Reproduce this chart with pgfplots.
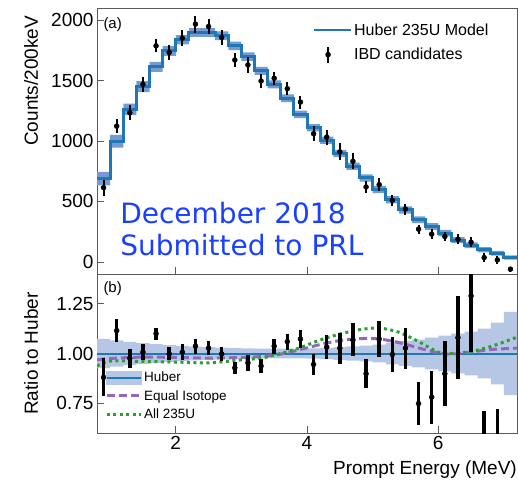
\documentclass[border=0pt]{standalone}
\usepackage{fontspec}
\setmainfont{Liberation Sans}
\newfontfamily\notefont{DejaVu Sans}
\usepackage{pgfplots}
\usepackage{pgfplotstable}
\usepgfplotslibrary{fillbetween}
\pgfplotsset{compat=1.18}

\definecolor{huber}{RGB}{31,119,180}
\definecolor{upband}{RGB}{118,155,210}
\definecolor{lowband}{RGB}{182,199,230}
\definecolor{isocol}{RGB}{148,103,189}
\definecolor{u235col}{RGB}{44,160,44}
\definecolor{notecol}{RGB}{26,64,255}
\definecolor{framecol}{RGB}{90,90,90}

% model per 200 keV bin (lower edge), band in counts, fractional band for ratio
\pgfplotstableread{
lo model band frac
0.8 689 55 0.073
1.0 998 52 0.066
1.2 1261 48 0.058
1.4 1450 45 0.052
1.6 1613 42 0.047
1.8 1745 40 0.042
2.0 1837 38 0.038
2.2 1898 36 0.035
2.4 1898 36 0.032
2.6 1870 36 0.030
2.8 1787 35 0.028
3.0 1698 35 0.026
3.2 1580 34 0.025
3.4 1469 33 0.024
3.6 1353 32 0.024
3.8 1220 31 0.025
4.0 1110 30 0.026
4.2 1007 30 0.028
4.4 896 30 0.032
4.6 791 30 0.036
4.8 695 30 0.040
5.0 598 30 0.045
5.2 515 30 0.055
5.4 430 30 0.062
5.6 349 28 0.070
5.8 293 28 0.080
6.0 238 26 0.090
6.2 180 25 0.100
6.4 138 24 0.110
6.6 100 22 0.125
6.8 72 20 0.155
7.0 36 18 0.210
7.2 36 18 0.210
}\modeltab

% IBD candidates and ratio to Huber
\pgfplotstableread{
E n err r rerr
0.9 614 65 0.880 0.095
1.1 1123 58 1.115 0.058
1.3 1234 60 0.976 0.048
1.5 1469 61 1.007 0.042
1.7 1787 55 1.100 0.030
1.9 1732 58 0.998 0.033
2.1 1851 65 1.007 0.039
2.3 1967 70 1.037 0.037
2.5 1947 66 1.027 0.035
2.7 1856 65 0.998 0.035
2.9 1670 54 0.928 0.030
3.1 1629 68 0.953 0.040
3.3 1496 55 0.937 0.035
3.5 1519 54 1.037 0.037
3.7 1433 54 1.060 0.040
3.9 1322 54 1.073 0.044
4.1 1060 60 0.945 0.054
4.3 1032 62 1.032 0.062
4.5 910 70 1.027 0.078
4.7 832 66 1.068 0.083
4.9 620 51 0.898 0.073
5.1 639 54 1.073 0.090
5.3 509 46 0.995 0.089
5.5 437 45 1.027 0.103
5.7 271 38 0.748 0.110
5.9 230 39 0.780 0.133
6.1 210 39 0.898 0.163
6.3 188 39 1.080 0.210
6.5 163 41 1.290 0.280
6.7 36 35 0.360 0.350
6.9 17 35 0.240 0.480
7.1 -60 22 -1.500 0.600
}\datatab

\pgfplotstableread{
E iso u235
0.8 0.968 0.937
1.0 0.975 0.962
1.5 0.982 0.960
2.0 0.980 0.957
2.5 0.977 0.953
3.0 0.980 0.968
3.3 0.985 0.977
3.6 0.997 1.000
3.9 1.020 1.030
4.2 1.045 1.068
4.5 1.065 1.098
4.8 1.075 1.120
5.1 1.073 1.128
5.4 1.055 1.107
5.7 1.028 1.060
6.0 1.003 1.007
6.2 0.997 1.000
6.5 1.007 1.010
6.8 1.020 1.035
7.2 1.027 1.082
}\curvetab

\pgfplotsset{
  panel/.style={
    scale only axis,
    width=420pt,
    xmin=0.8, xmax=7.2,
    xtick={2,4,6},
    xtick pos=bottom, ytick pos=left,
    tick align=inside,
    major tick length=7pt,
    axis line style={framecol, line width=0.8pt},
    tick style={framecol, line width=0.8pt},
    ticklabel style={font=\fontsize{19}{19}\selectfont},
    label style={font=\fontsize{19}{19}\selectfont},
    /pgf/number format/assume math mode=true,
  },
}

\begin{document}
\begin{tikzpicture}

% (a) spectrum
\begin{axis}[panel,
  at={(0,159pt)},
  height=266pt,
  ymin=-100, ymax=2100,
  ytick={0,500,1000,1500,2000},
  yticklabel style={/pgf/number format/1000 sep={}},
  xticklabels={},
  ylabel={Counts/200keV},
  ylabel style={at={(axis description cs:-0.157,0.726)}, anchor=center},
  legend cell align=left,
  legend style={at={(axis description cs:0.514,0.95)}, anchor=north west,
    draw=none, fill=none, inner sep=0pt, row sep=7pt,
    font=\fontsize{16}{16}\selectfont},
]
\addplot[name path=bu, draw=none, const plot mark left, forget plot]
  table[x=lo, y expr=\thisrow{model}+\thisrow{band}] {\modeltab};
\addplot[name path=bl, draw=none, const plot mark left, forget plot]
  table[x=lo, y expr=\thisrow{model}-\thisrow{band}] {\modeltab};
\addplot[fill=upband, draw=none, forget plot] fill between[of=bu and bl];
\addplot[huber, line width=3pt, const plot mark left,
  legend image code/.code={\draw[huber, line width=2pt] (0pt,0pt) -- (37pt,0pt);}]
  table[x=lo, y=model] {\modeltab};
\addlegendentry{Huber 235U Model}
\addplot[only marks, mark=*, mark size=2.5pt, black,
  legend image code/.code={\draw[black, line width=2pt] (14pt,-8pt) -- (14pt,8pt);
    \fill[black] (14pt,0pt) circle (2.5pt);},
  error bars/.cd, y dir=both, y explicit, error mark=none,
  error bar style={line width=2pt, black}]
  table[x=E, y=n, y error=err] {\datatab};
\addlegendentry{IBD candidates}
\node[anchor=north west, inner sep=0pt, font=\fontsize{15}{15}\selectfont]
  at (rel axis cs:0.015,0.965) {(a)};
\node[anchor=base west, inner sep=0pt, text=notecol, font=\notefont\fontsize{28}{28}\selectfont]
  at (rel axis cs:0.055,0.1906) {December 2018};
\node[anchor=base west, inner sep=0pt, text=notecol, font=\notefont\fontsize{28}{28}\selectfont]
  at (rel axis cs:0.055,0.0677) {Submitted to PRL};
\end{axis}

% (b) ratio
\begin{axis}[panel,
  at={(0,0)},
  height=159pt,
  ymin=0.6, ymax=1.4,
  ytick={0.75,1,1.25},
  yticklabel style={/pgf/number format/.cd, fixed, fixed zerofill, precision=2},
  xlabel={Prompt Energy (MeV)},
  xlabel style={at={(rel axis cs:1,0)}, anchor=north east, inner sep=0pt, yshift=-28pt},
  ylabel={Ratio to Huber},
  ylabel style={at={(axis description cs:-0.157,0.5)}, anchor=center},
  legend cell align=left,
  legend style={at={(axis description cs:0.019,0.069)}, anchor=south west,
    draw=none, fill=none, inner sep=0pt, row sep=3pt,
    font=\fontsize{13.5}{13.5}\selectfont},
]
\addplot[name path=ru, draw=none, const plot mark left, forget plot]
  table[x=lo, y expr=1+\thisrow{frac}] {\modeltab};
\addplot[name path=rl, draw=none, const plot mark left, forget plot]
  table[x=lo, y expr=1-\thisrow{frac}] {\modeltab};
\addplot[fill=lowband, draw=none, forget plot] fill between[of=ru and rl];
\addplot[huber, line width=2pt,
  legend image code/.code={\fill[lowband] (0pt,-6pt) rectangle (34pt,6pt);
    \draw[huber, line width=2pt] (0pt,0pt) -- (34pt,0pt);}]
  coordinates {(0.8,1) (7.2,1)};
\addlegendentry{Huber}
\addplot[isocol, line width=3pt, dash pattern=on 8pt off 4pt, smooth,
  legend image code/.code={\draw[isocol, line width=3pt, dash pattern=on 8pt off 4pt] (0pt,0pt) -- (34pt,0pt);}]
  table[x=E, y=iso] {\curvetab};
\addlegendentry{Equal Isotope}
\addplot[u235col, line width=3pt, dash pattern=on 3pt off 3.5pt, smooth,
  legend image code/.code={\draw[u235col, line width=3pt, dash pattern=on 3pt off 3.5pt] (0pt,0pt) -- (34pt,0pt);}]
  table[x=E, y=u235] {\curvetab};
\addlegendentry{All 235U}
\addplot[only marks, mark=*, mark size=2.5pt, black, forget plot,
  error bars/.cd, y dir=both, y explicit, error mark=none,
  error bar style={line width=3.5pt, black}]
  table[x=E, y=r, y error=rerr] {\datatab};
\node[anchor=north west, inner sep=0pt, font=\fontsize{15}{15}\selectfont]
  at (rel axis cs:0.015,0.955) {(b)};
\end{axis}

\pgfresetboundingbox
\useasboundingbox (-97pt,-47pt) rectangle (421pt,433pt);
\end{tikzpicture}
\end{document}
